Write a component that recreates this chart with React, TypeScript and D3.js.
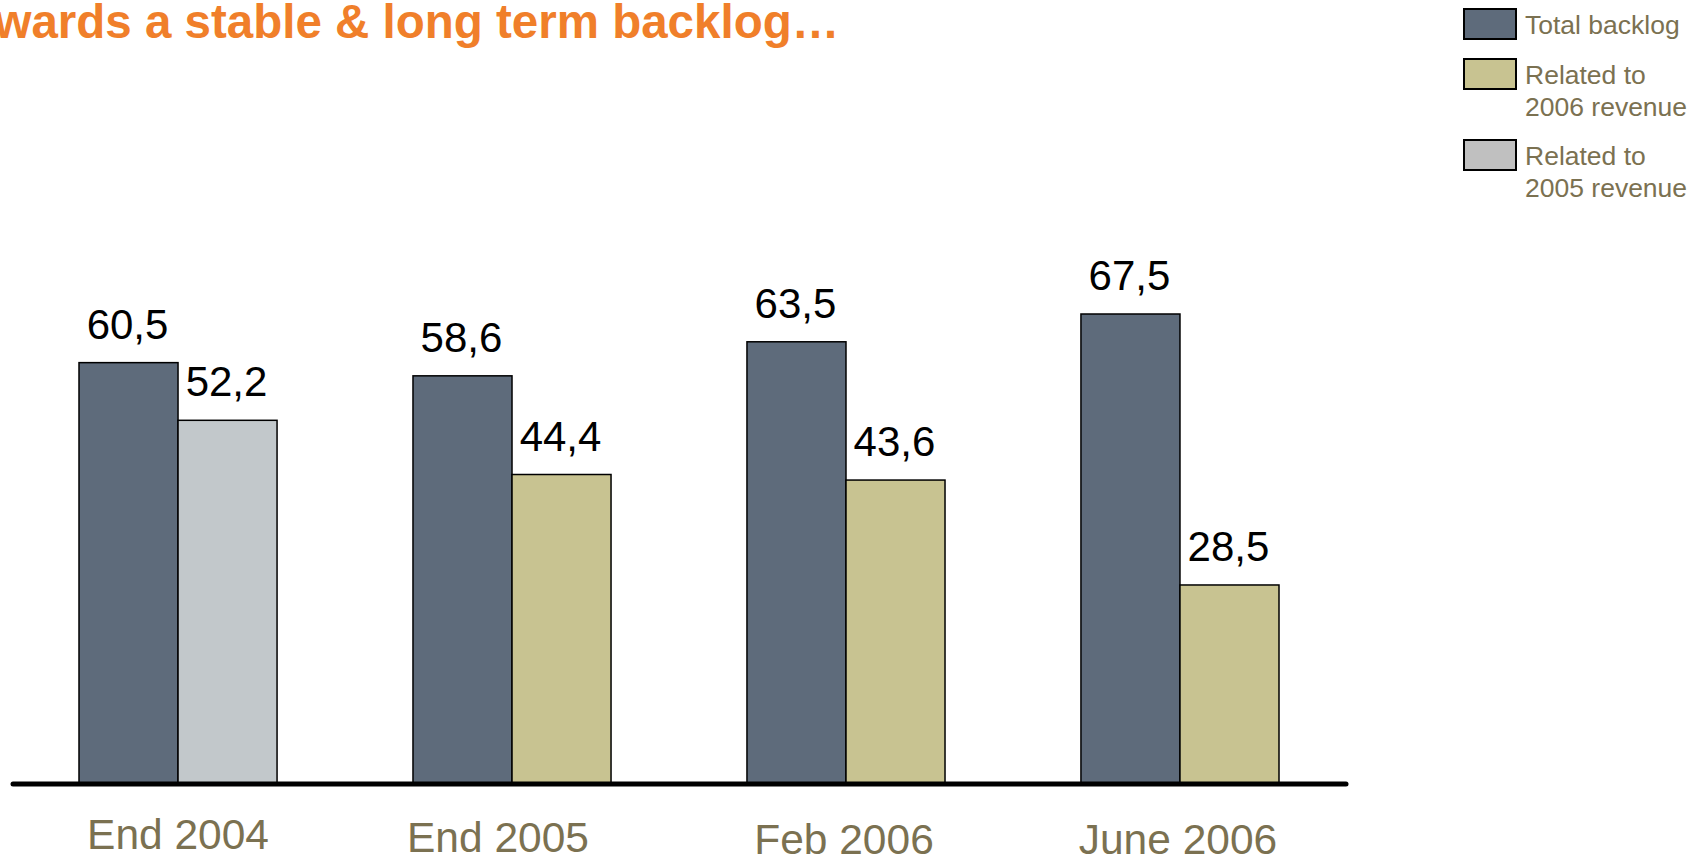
import * as d3 from "d3";
import { useEffect, useRef } from "react";

// --- Data ---
const categories = ["End 2004", "End 2005", "Feb 2006", "June 2006"];
const totalBacklog = [60.5, 58.6, 63.5, 67.5];
const relatedRevenue = [52.2, 44.4, 43.6, 28.5];
// which revenue year the second bar belongs to
const relatedYear = ["2005", "2006", "2006", "2006"];
const valueLabels = ["60,5", "58,6", "63,5", "67,5"];
const relatedLabels = ["52,2", "44,4", "43,6", "28,5"];
const legendItems = [
  { key: "total", lines: ["Total backlog"] },
  { key: "2006", lines: ["Related to", "2006 revenue"] },
  { key: "2005", lines: ["Related to", "2005 revenue"] },
];

const W = 1705;
const H = 858;
const FONT = "Liberation Sans, Arial, sans-serif";

const colors: Record<string, string> = {
  total: "#5e6b7b",
  "2006": "#c8c391",
  "2005": "#c2c8cb",
};
const legendColors: Record<string, string> = {
  total: "#5e6b7b",
  "2006": "#c8c391",
  "2005": "#c0c0c0",
};
const olive = "#7b7151";

// small hand nudges for the category captions (the slide places them unevenly)
const captionNudge = [
  { dx: 0, dy: 0 },
  { dx: -14, dy: 3 },
  { dx: -2, dy: 5 },
  { dx: -2, dy: 5 },
];

const BackChart = () => {
  const ref = useRef<SVGSVGElement | null>(null);

  useEffect(() => {
    if (!ref.current) return;
    const svg = d3.select(ref.current);
    svg.selectAll("*").remove();

    const baseY = 783;

    const x = d3
      .scaleBand<string>()
      .domain(categories)
      .range([79, 1279])
      .paddingInner(0.407)
      .paddingOuter(0);

    const inner = d3
      .scaleBand<string>()
      .domain(["total", "related"])
      .range([0, x.bandwidth()]);

    const y = d3.scaleLinear().domain([0, 67.5]).range([baseY, 314]);

    // title (starts off the left edge, as in the slide)
    svg
      .append("text")
      .attr("x", -60)
      .attr("y", 38)
      .attr("font-family", FONT)
      .attr("font-weight", "bold")
      .attr("font-size", 47.5)
      .attr("fill", "#f07f2a")
      .text("Towards a stable & long term backlog…");

    const groups = svg
      .selectAll("g.grp")
      .data(categories)
      .join("g")
      .attr("class", "grp")
      .attr("transform", (d) => `translate(${x(d)},0)`);

    // total backlog bars
    groups
      .append("rect")
      .attr("x", inner("total")!)
      .attr("y", (_d, i) => y(totalBacklog[i]))
      .attr("width", inner.bandwidth())
      .attr("height", (_d, i) => baseY - y(totalBacklog[i]))
      .attr("fill", colors.total)
      .attr("stroke", "#000")
      .attr("stroke-width", 1.5);

    // related-to-revenue bars
    groups
      .append("rect")
      .attr("x", inner("related")!)
      .attr("y", (_d, i) => y(relatedRevenue[i]))
      .attr("width", inner.bandwidth())
      .attr("height", (_d, i) => baseY - y(relatedRevenue[i]))
      .attr("fill", (_d, i) => colors[relatedYear[i]])
      .attr("stroke", "#000")
      .attr("stroke-width", 1.5);

    // value labels
    groups
      .append("text")
      .attr("x", inner("total")! + inner.bandwidth() / 2 - 1)
      .attr("y", (_d, i) => y(totalBacklog[i]) - 24)
      .attr("text-anchor", "middle")
      .attr("font-family", FONT)
      .attr("font-size", 42)
      .attr("fill", "#000")
      .text((_d, i) => valueLabels[i]);

    groups
      .append("text")
      .attr("x", inner("related")! + inner.bandwidth() / 2 - 1)
      .attr("y", (_d, i) => y(relatedRevenue[i]) - 24)
      .attr("text-anchor", "middle")
      .attr("font-family", FONT)
      .attr("font-size", 42)
      .attr("fill", "#000")
      .text((_d, i) => relatedLabels[i]);

    // baseline
    svg
      .append("line")
      .attr("x1", 13)
      .attr("x2", 1346)
      .attr("y1", baseY + 1)
      .attr("y2", baseY + 1)
      .attr("stroke", "#000")
      .attr("stroke-width", 5)
      .attr("stroke-linecap", "round");

    // category captions
    svg
      .selectAll("text.cat")
      .data(categories)
      .join("text")
      .attr("class", "cat")
      .attr("x", (d, i) => x(d)! + x.bandwidth() / 2 + captionNudge[i].dx)
      .attr("y", (_d, i) => 849 + captionNudge[i].dy)
      .attr("text-anchor", "middle")
      .attr("font-family", FONT)
      .attr("font-size", 42.5)
      .attr("fill", olive)
      .text((d) => d);

    // legend
    const legendTop = [9, 59, 140];
    const lg = svg
      .selectAll("g.leg")
      .data(legendItems)
      .join("g")
      .attr("class", "leg")
      .attr("transform", (_d, i) => `translate(1464,${legendTop[i]})`);

    lg.append("rect")
      .attr("width", 52)
      .attr("height", 30)
      .attr("fill", (d) => legendColors[d.key])
      .attr("stroke", "#000")
      .attr("stroke-width", 2);

    lg.append("text")
      .attr("x", 61)
      .attr("y", 25)
      .attr("font-family", FONT)
      .attr("font-size", 26.5)
      .attr("fill", olive)
      .selectAll("tspan")
      .data((d) => d.lines)
      .join("tspan")
      .attr("x", 61)
      .attr("dy", (_d, i) => (i === 0 ? 0 : 32))
      .text((d) => d);
  }, []);

  return (
    <svg
      ref={ref}
      width={W}
      height={H}
      style={{ position: "absolute", left: 0, top: 0, background: "#fff" }}
    />
  );
};

export default function App() {
  return <BackChart />;
}
